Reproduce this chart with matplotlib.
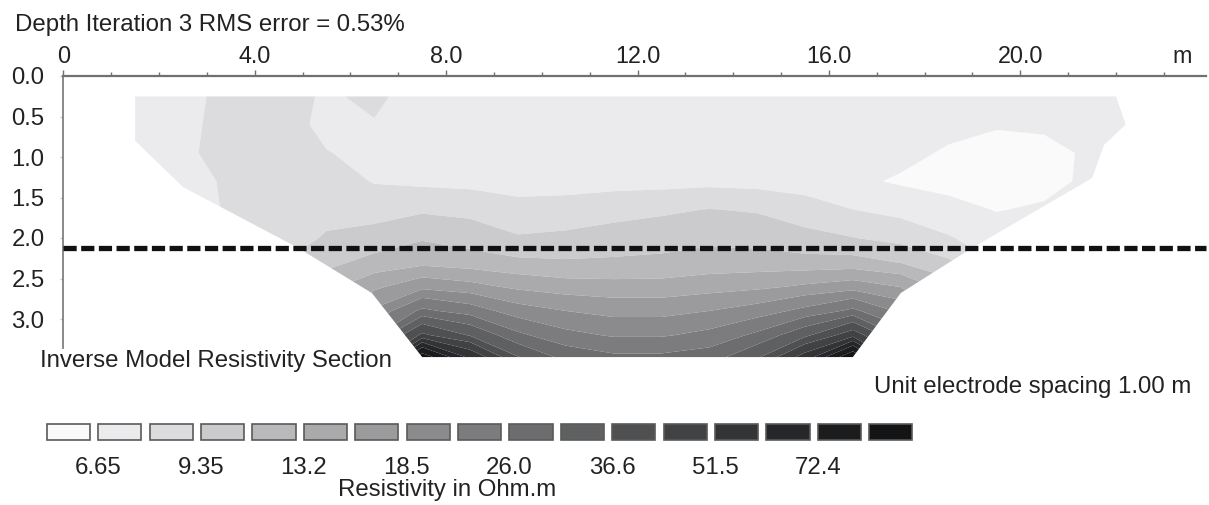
import matplotlib.pyplot as plt
import numpy as np
from matplotlib.patches import Polygon
from matplotlib.transforms import blended_transform_factory

plt.rcParams["font.family"] = ["Liberation Sans", "DejaVu Sans"]

# model grid (x along the line in m, depth in m)
distance_nodes = [1.5, 2.5, 3.5, 4.5, 5.5, 6.5, 7.5, 8.5, 9.5, 10.5, 11.5,
                  12.5, 13.5, 14.5, 15.5, 16.5, 17.5, 18.5, 19.5, 20.5, 21.5, 22.5]
depth_nodes = [0.25, 0.6, 0.95, 1.3, 1.65, 2.0, 2.3, 2.6, 2.9, 3.2, 3.5]

# resistivity (Ohm.m) per depth row
rho_d025 = [7.3, 7.3, 8.5, 8.5, 7.7, 8.2, 7.2, 7.2, 7.2, 7.2, 7.2, 7.2, 7.5, 7.2, 7.2, 7.3, 7.2, 7.1, 7.1, 7.1, 7.0, 6.9]
rho_d060 = [7.3, 7.4, 8.6, 8.6, 7.5, 7.8, 7.2, 7.2, 7.2, 7.2, 7.2, 7.2, 7.2, 7.2, 7.2, 7.1, 7.1, 7.0, 6.8, 6.9, 7.0, 6.8]
rho_d095 = [7.4, 7.5, 8.7, 8.8, 7.95, 7.5, 7.2, 7.2, 7.2, 7.2, 7.2, 7.2, 7.2, 7.2, 7.2, 7.1, 7.0, 6.5, 6.0, 6.2, 6.9, 7.0]
rho_d130 = [7.3, 7.4, 8.1, 8.9, 8.6, 7.8, 7.6, 7.5, 7.4, 7.4, 7.4, 7.4, 7.5, 7.4, 7.2, 6.9, 6.5, 6.3, 6.1, 6.3, 6.9, 7.0]
rho_d165 = [7.3, 7.5, 8.0, 8.6, 8.9, 8.8, 9.1, 8.9, 8.3, 8.4, 8.8, 9.1, 9.4, 9.2, 8.6, 7.9, 7.5, 7.0, 6.6, 6.8, 7.0, 7.1]
rho_d200 = [7.3, 7.5, 8.0, 8.6, 9.5, 9.9, 10.9, 10.3, 9.5, 9.7, 10.0, 10.2, 10.6, 10.4, 9.8, 9.4, 8.8, 8.0, 7.2, 7.0, 7.1, 7.1]
rho_d230 = [7.3, 7.5, 8.2, 9.2, 10.5, 11.8, 12.5, 12.0, 11.5, 11.3, 11.4, 11.6, 12.0, 12.0, 11.8, 11.8, 11.0, 9.6, 7.8, 7.2, 7.2, 7.1]
rho_d260 = [7.3, 7.6, 8.5, 10.0, 12.5, 15.0, 17.5, 16.5, 15.0, 14.2, 14.0, 14.0, 14.5, 15.0, 16.0, 17.0, 15.5, 12.0, 8.8, 7.5, 7.3, 7.2]
rho_d290 = [7.3, 7.6, 8.5, 10.5, 14.0, 19.0, 27.0, 24.0, 20.0, 18.5, 17.5, 17.5, 18.5, 20.0, 23.0, 27.0, 21.0, 13.0, 9.0, 7.5, 7.3, 7.2]
rho_d320 = [7.3, 7.6, 8.5, 10.5, 15.0, 25.0, 45.0, 36.0, 27.0, 23.0, 21.5, 21.5, 23.0, 27.0, 35.0, 48.0, 29.0, 14.0, 9.0, 7.5, 7.3, 7.2]
rho_d350 = [7.3, 7.6, 8.5, 10.5, 16.0, 32.0, 100.0, 62.0, 38.0, 30.0, 27.5, 27.5, 29.0, 37.0, 58.0, 105.0, 42.0, 15.0, 9.0, 7.5, 7.3, 7.2]

# outline of the model section
outline_x = [1.5, 22.0, 22.2, 21.75, 21.5, 19.0, 17.5, 16.5, 7.5, 6.45, 4.9, 2.5, 1.5]
outline_depth = [0.25, 0.25, 0.6, 0.85, 1.26, 2.12, 2.68, 3.47, 3.47, 2.68, 2.12, 1.37, 0.8]

marker_depth = 2.12

resistivity_levels = [6.65, 7.89, 9.35, 11.09, 13.2, 15.6, 18.5, 21.9,
                      26.0, 30.8, 36.6, 43.4, 51.5, 61.1, 72.4, 85.9]
legend_labels = ["6.65", "9.35", "13.2", "18.5", "26.0", "36.6", "51.5", "72.4"]

x_ticks = [0, 4, 8, 12, 16, 20]
x_tick_labels = ["0", "4.0", "8.0", "12.0", "16.0", "20.0"]
y_ticks = [0.0, 0.5, 1.0, 1.5, 2.0, 2.5, 3.0]
y_tick_labels = ["0.0", "0.5", "1.0", "1.5", "2.0", "2.5", "3.0"]

shade_colors = ["#fafafa", "#ebebed", "#dcdcde", "#cbcbcd", "#b9b9bb", "#aaaaac",
                "#9b9b9d", "#8b8b8d", "#7c7c7e", "#6d6d6f", "#5f6062", "#4f5052",
                "#404244", "#323436", "#25272a", "#1b1c1e", "#131416"]

text_color = "#222222"
W, H = 1209, 505

fig = plt.figure(figsize=(W / 100, H / 100), dpi=100)
ax = fig.add_axes([63.3 / W, 1 - 359.5 / H, (1206 - 63.3) / W, (359.5 - 76) / H])

values = np.array([rho_d025, rho_d060, rho_d095, rho_d130, rho_d165, rho_d200,
                   rho_d230, rho_d260, rho_d290, rho_d320, rho_d350])
grid_x, grid_d = np.meshgrid(distance_nodes, depth_nodes)

contours = ax.contourf(grid_x, grid_d, values,
                       levels=[0] + resistivity_levels + [1000],
                       colors=shade_colors, antialiased=True)
outline = Polygon(np.column_stack([outline_x, outline_depth]), closed=True,
                  transform=ax.transData, facecolor="none", edgecolor="none")
contours.set_clip_path(outline)

ax.axhline(marker_depth, color="#111111", linewidth=3.8, dashes=(2.5, 0.85),
           solid_capstyle="butt", dash_capstyle="butt", clip_on=False, zorder=5)

ax.set_xlim(0, 23.88)
ax.set_ylim(3.5, 0)

ax.spines["bottom"].set_visible(False)
ax.spines["right"].set_visible(False)
ax.spines["top"].set_color("#707070")
ax.spines["top"].set_linewidth(1.6)
ax.spines["left"].set_color("#808080")
ax.spines["left"].set_linewidth(1.3)
ax.spines["left"].set_bounds(0, 3.36)

ax.xaxis.tick_top()
ax.set_xticks(x_ticks)
ax.set_xticklabels(x_tick_labels)
ax.set_xticks(list(range(0, 24)), minor=True)
ax.tick_params(axis="x", which="major", length=4.5, width=1.0, color="#707070",
               pad=1, labelsize=16.8, labelcolor=text_color)
ax.tick_params(axis="x", which="minor", length=3, width=1.0, color="#707070")

ax.set_yticks(y_ticks)
ax.set_yticklabels(y_tick_labels)
ax.tick_params(axis="y", which="major", length=2.5, width=1.0, color="#c8c8c8",
               pad=11, labelsize=17.2, labelcolor=text_color)

ax.annotate("m", xy=(23.38, 1), xycoords=("data", "axes fraction"),
            xytext=(0, 5.5), textcoords="offset points", ha="center",
            va="bottom", fontsize=16.8, color=text_color)

fig.text(15 / W, 1 - 30.7 / H, "Depth Iteration 3 RMS error = 0.53%",
         fontsize=17.3, color=text_color, va="baseline")
fig.text(40 / W, 1 - 366.7 / H, "Inverse Model Resistivity Section",
         fontsize=17.3, color=text_color, va="baseline")
fig.text(1191.7 / W, 1 - 393.3 / H, "Unit electrode spacing 1.00 m",
         fontsize=17.3, color=text_color, va="baseline", ha="right")

# colour key
leg_ax = fig.add_axes([42.8 / W, 1 - 440 / H, 873.6 / W, 16 / H])
leg_ax.bar(range(len(shade_colors)), [1] * len(shade_colors), width=0.84,
           color=shade_colors, edgecolor="#5a5a5a", linewidth=1.2, clip_on=False)
leg_ax.set_xlim(-0.5, len(shade_colors) - 0.5)
leg_ax.set_ylim(0, 1)
leg_ax.axis("off")

key_transform = blended_transform_factory(leg_ax.transData, leg_ax.transAxes)
for k, label in enumerate(legend_labels):
    leg_ax.text(2 * k + 0.58, -2.125, label, transform=key_transform,
                ha="center", va="baseline", fontsize=17.3, color=text_color)

fig.text(338 / W, 1 - 496 / H, "Resistivity in Ohm.m",
         fontsize=17.3, color=text_color, va="baseline")

fig.savefig("out.png", dpi=100)
